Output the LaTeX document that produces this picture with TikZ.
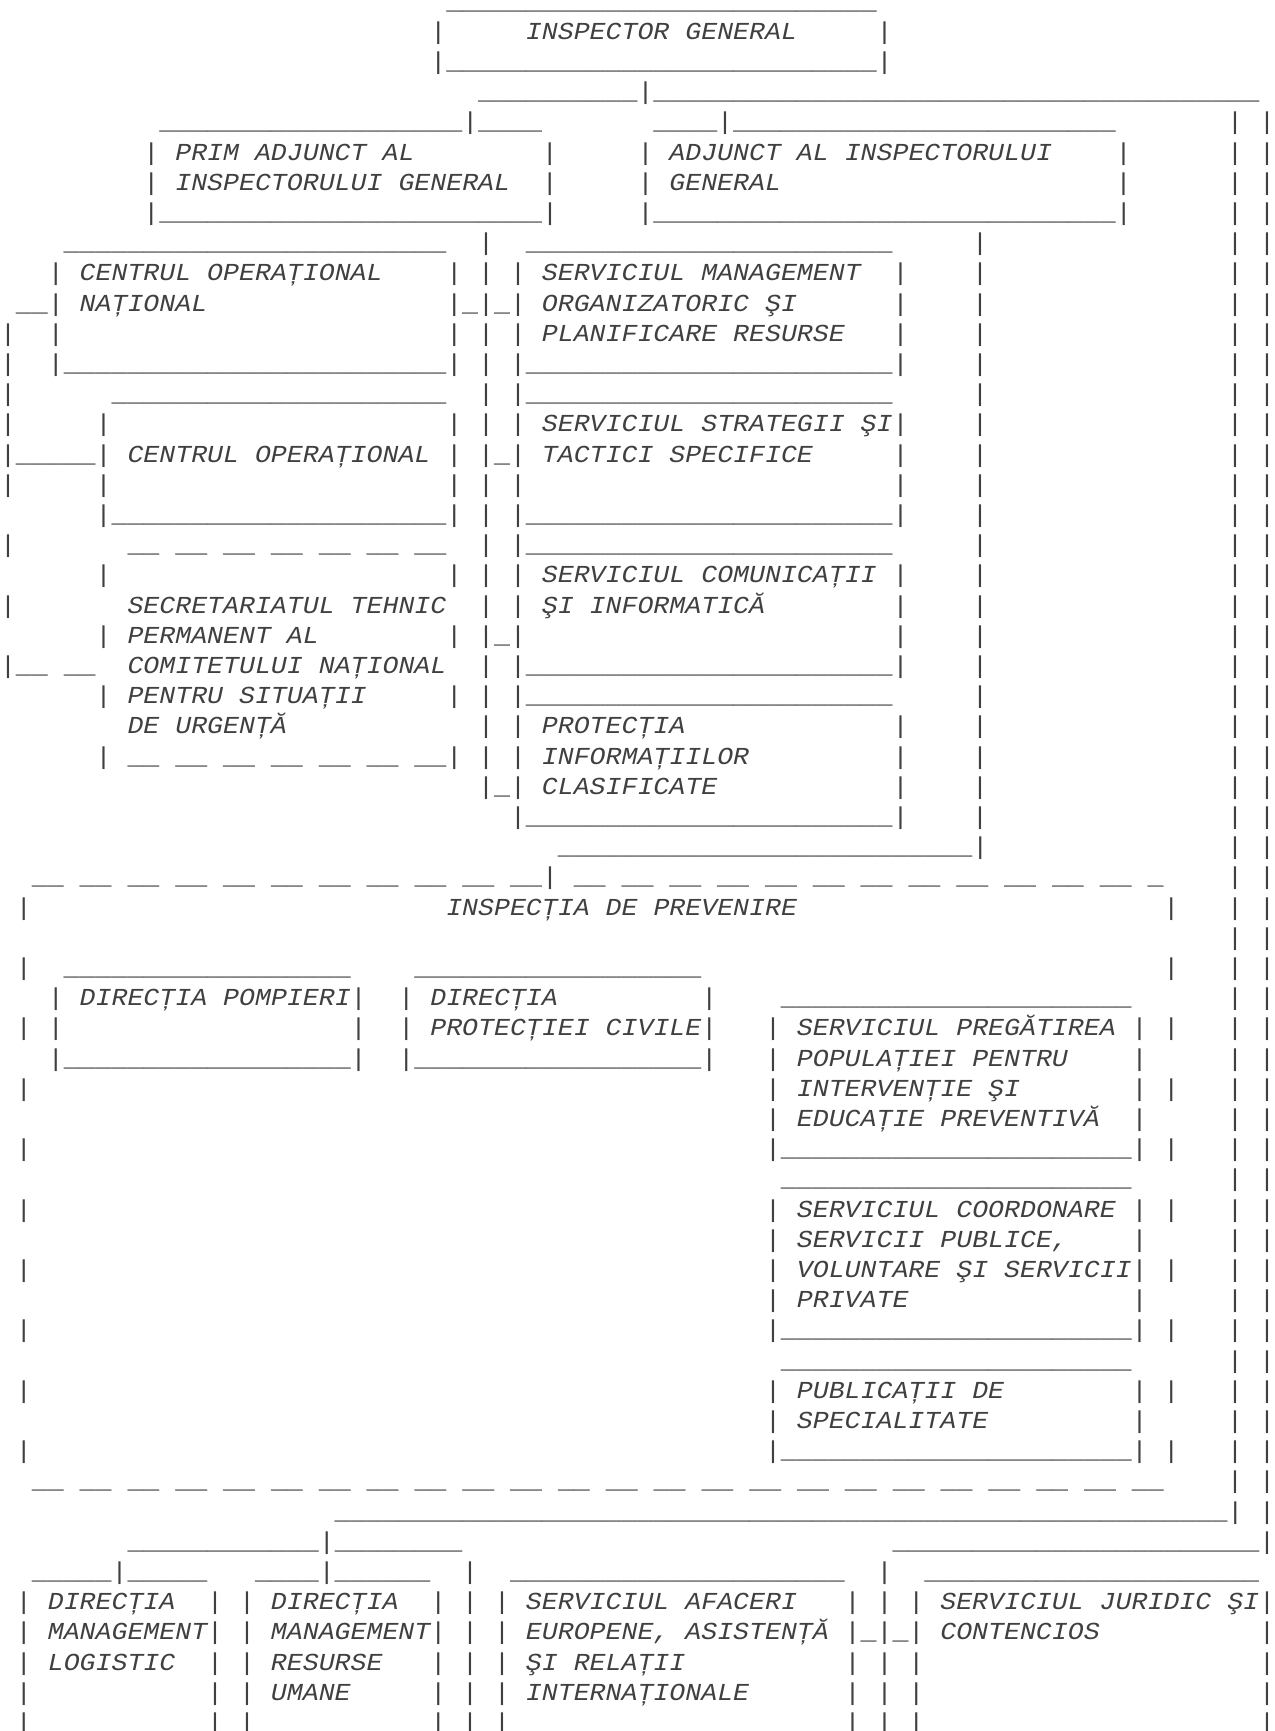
\documentclass[tikz,border=0pt]{standalone}
\usepackage{fontspec}
\newfontfamily\ascf[FakeStretch=1.089]{Liberation Mono}
\ExplSyntaxOn
\cs_new:Npn \RepU #1 { \prg_replicate:nn {#1} { \textunderscore } }
\cs_new:Npn \RepD #1 { \prg_replicate:nn {#1} { \textunderscore \textunderscore \c_space_tl } }
\ExplSyntaxOff
\newcounter{sgc}
\tikzset{
  barseg/.style={anchor=base west, inner sep=0pt, outer sep=0pt, text=black!75,
    font=\ascf\fontsize{12.2pt}{15.1pt}\selectfont},
  txtseg/.style={barseg, font=\ascf\itshape\fontsize{12.2pt}{15.1pt}\selectfont}
}
\newcommand\asg[3]{\stepcounter{sgc}\node[barseg] (s\arabic{sgc}) at ({#2*7.96875pt},{-4.5pt-#1*15.1pt}) {#3};}
\newcommand\atx[3]{\stepcounter{sgc}\node[txtseg] (s\arabic{sgc}) at ({#2*7.96875pt},{-4.5pt-#1*15.1pt}) {#3};}
\begin{document}
\begin{tikzpicture}
\path[use as bounding box] (0pt,0pt) rectangle (637.5pt,-865.5pt);
% Inspector general
\asg{0}{28}{\smash{\RepU{27}}}
\asg{1}{27}{|} \atx{1}{33}{INSPECTOR GENERAL} \asg{1}{55}{|}
\asg{2}{27}{|\RepU{27}|}
\asg{3}{30}{\RepU{10}|\RepU{38}}
\asg{4}{10}{\RepU{19}|\RepU{4}} \asg{4}{41}{\RepU{4}|\RepU{24}}
\asg{5}{9}{|} \atx{5}{11}{PRIM ADJUNCT AL} \asg{5}{34}{|} \asg{5}{40}{|} \atx{5}{42}{ADJUNCT AL INSPECTORULUI} \asg{5}{70}{|}
\asg{6}{9}{|} \atx{6}{11}{INSPECTORULUI GENERAL} \asg{6}{34}{|} \asg{6}{40}{|} \atx{6}{42}{GENERAL} \asg{6}{70}{|}
\asg{7}{9}{|\RepU{24}|} \asg{7}{40}{|\RepU{29}|}
\asg{8}{4}{\RepU{24}} \asg{8}{30}{|} \asg{8}{33}{\RepU{23}} \asg{8}{61}{|}
\asg{9}{3}{|} \atx{9}{5}{CENTRUL OPERAȚIONAL} \asg{9}{28}{|} \asg{9}{30}{|} \asg{9}{32}{|} \atx{9}{34}{SERVICIUL MANAGEMENT} \asg{9}{56}{|} \asg{9}{61}{|}
\asg{10}{1}{\RepU{2}|} \atx{10}{5}{NAȚIONAL} \asg{10}{28}{|\_|\_|} \atx{10}{34}{ORGANIZATORIC ŞI} \asg{10}{56}{|} \asg{10}{61}{|}
\asg{11}{0}{|} \asg{11}{3}{|} \asg{11}{28}{|} \asg{11}{30}{|} \asg{11}{32}{|} \atx{11}{34}{PLANIFICARE RESURSE} \asg{11}{56}{|} \asg{11}{61}{|}
\asg{12}{0}{|} \asg{12}{3}{|\RepU{24}|} \asg{12}{30}{|} \asg{12}{32}{|\RepU{23}|} \asg{12}{61}{|}
\asg{13}{0}{|} \asg{13}{7}{\RepU{21}} \asg{13}{30}{|} \asg{13}{32}{|\RepU{23}} \asg{13}{61}{|}
\asg{14}{0}{|} \asg{14}{6}{|} \asg{14}{28}{|} \asg{14}{30}{|} \asg{14}{32}{|} \atx{14}{34}{SERVICIUL STRATEGII ŞI} \asg{14}{56}{|} \asg{14}{61}{|}
\asg{15}{0}{|\RepU{5}|} \atx{15}{8}{CENTRUL OPERAȚIONAL} \asg{15}{28}{|} \asg{15}{30}{|\_|} \atx{15}{34}{TACTICI SPECIFICE} \asg{15}{56}{|} \asg{15}{61}{|}
\asg{16}{0}{|} \asg{16}{6}{|} \asg{16}{28}{|} \asg{16}{30}{|} \asg{16}{32}{|} \asg{16}{56}{|} \asg{16}{61}{|}
\asg{17}{6}{|\RepU{21}|} \asg{17}{30}{|} \asg{17}{32}{|\RepU{23}|} \asg{17}{61}{|}
\asg{18}{0}{|} \asg{18}{8}{\RepD{6}\_\_} \asg{18}{30}{|} \asg{18}{32}{|\RepU{23}} \asg{18}{61}{|}
\asg{19}{6}{|} \asg{19}{28}{|} \asg{19}{30}{|} \asg{19}{32}{|} \atx{19}{34}{SERVICIUL COMUNICAȚII} \asg{19}{56}{|} \asg{19}{61}{|}
\asg{20}{0}{|} \atx{20}{8}{SECRETARIATUL TEHNIC} \asg{20}{30}{|} \asg{20}{32}{|} \atx{20}{34}{ŞI INFORMATICĂ} \asg{20}{56}{|} \asg{20}{61}{|}
\asg{21}{6}{|} \atx{21}{8}{PERMANENT AL} \asg{21}{28}{|} \asg{21}{30}{|\_|} \asg{21}{56}{|} \asg{21}{61}{|}
\asg{22}{0}{|\_\_ \_\_} \atx{22}{8}{COMITETULUI NAȚIONAL} \asg{22}{30}{|} \asg{22}{32}{|\RepU{23}|} \asg{22}{61}{|}
\asg{23}{6}{|} \atx{23}{8}{PENTRU SITUAȚII} \asg{23}{28}{|} \asg{23}{30}{|} \asg{23}{32}{|\RepU{23}} \asg{23}{61}{|}
\atx{24}{8}{DE URGENȚĂ} \asg{24}{30}{|} \asg{24}{32}{|} \atx{24}{34}{PROTECȚIA} \asg{24}{56}{|} \asg{24}{61}{|}
\asg{25}{6}{|} \asg{25}{8}{\RepD{6}\_\_|} \asg{25}{30}{|} \asg{25}{32}{|} \atx{25}{34}{INFORMAȚIILOR} \asg{25}{56}{|} \asg{25}{61}{|}
\asg{26}{30}{|\_|} \atx{26}{34}{CLASIFICATE} \asg{26}{56}{|} \asg{26}{61}{|}
\asg{27}{32}{|\RepU{23}|} \asg{27}{61}{|}
\asg{28}{35}{\RepU{26}|}
% Inspectia de prevenire
\asg{29}{2}{\RepD{10}\_\_|} \asg{29}{36}{\RepD{12}\_}
\asg{30}{1}{|} \atx{30}{28}{INSPECȚIA DE PREVENIRE} \asg{30}{73}{|}
\asg{32}{1}{|} \asg{32}{4}{\RepU{18}} \asg{32}{26}{\RepU{18}} \asg{32}{73}{|}
\asg{33}{3}{|} \atx{33}{5}{DIRECȚIA POMPIERI} \asg{33}{22}{|} \asg{33}{25}{|} \atx{33}{27}{DIRECȚIA} \asg{33}{44}{|} \asg{33}{49}{\RepU{22}}
\asg{34}{1}{|} \asg{34}{3}{|} \asg{34}{22}{|} \asg{34}{25}{|} \atx{34}{27}{PROTECȚIEI CIVILE} \asg{34}{44}{|} \asg{34}{48}{|} \atx{34}{50}{SERVICIUL PREGĂTIREA} \asg{34}{71}{|} \asg{34}{73}{|}
\asg{35}{3}{|\RepU{18}|} \asg{35}{25}{|\RepU{18}|} \asg{35}{48}{|} \atx{35}{50}{POPULAȚIEI PENTRU} \asg{35}{71}{|}
\asg{36}{1}{|} \asg{36}{48}{|} \atx{36}{50}{INTERVENȚIE ŞI} \asg{36}{71}{|} \asg{36}{73}{|}
\asg{37}{48}{|} \atx{37}{50}{EDUCAȚIE PREVENTIVĂ} \asg{37}{71}{|}
\asg{38}{1}{|} \asg{38}{48}{|\RepU{22}|} \asg{38}{73}{|}
\asg{39}{49}{\RepU{22}}
\asg{40}{1}{|} \asg{40}{48}{|} \atx{40}{50}{SERVICIUL COORDONARE} \asg{40}{71}{|} \asg{40}{73}{|}
\asg{41}{48}{|} \atx{41}{50}{SERVICII PUBLICE,} \asg{41}{71}{|}
\asg{42}{1}{|} \asg{42}{48}{|} \atx{42}{50}{VOLUNTARE ŞI SERVICII} \asg{42}{71}{|} \asg{42}{73}{|}
\asg{43}{48}{|} \atx{43}{50}{PRIVATE} \asg{43}{71}{|}
\asg{44}{1}{|} \asg{44}{48}{|\RepU{22}|} \asg{44}{73}{|}
\asg{45}{49}{\RepU{22}}
\asg{46}{1}{|} \asg{46}{48}{|} \atx{46}{50}{PUBLICAȚII DE} \asg{46}{71}{|} \asg{46}{73}{|}
\asg{47}{48}{|} \atx{47}{50}{SPECIALITATE} \asg{47}{71}{|}
\asg{48}{1}{|} \asg{48}{48}{|\RepU{22}|} \asg{48}{73}{|}
\asg{49}{2}{\RepD{23}\_\_}
% right-hand double line
\foreach \r in {4,...,49}{\asg{\r}{77}{| |}}
% bottom part
\asg{50}{21}{\RepU{56}|} \asg{50}{79}{|}
\asg{51}{8}{\RepU{12}|\RepU{8}} \asg{51}{56}{\RepU{23}|}
\asg{52}{2}{\RepU{5}|\RepU{5}} \asg{52}{16}{\RepU{4}|\RepU{6}} \asg{52}{29}{|} \asg{52}{32}{\RepU{21}} \asg{52}{55}{|} \asg{52}{58}{\RepU{21}}
\asg{53}{1}{|} \atx{53}{3}{DIRECȚIA} \asg{53}{13}{|} \asg{53}{15}{|} \atx{53}{17}{DIRECȚIA} \asg{53}{27}{|} \asg{53}{29}{|} \asg{53}{31}{|} \atx{53}{33}{SERVICIUL AFACERI} \asg{53}{53}{|} \asg{53}{55}{|} \asg{53}{57}{|} \atx{53}{59}{SERVICIUL JURIDIC ŞI} \asg{53}{79}{|}
\asg{54}{1}{|} \atx{54}{3}{MANAGEMENT} \asg{54}{13}{|} \asg{54}{15}{|} \atx{54}{17}{MANAGEMENT} \asg{54}{27}{|} \asg{54}{29}{|} \asg{54}{31}{|} \atx{54}{33}{EUROPENE, ASISTENȚĂ} \asg{54}{53}{|\_|\_|} \atx{54}{59}{CONTENCIOS} \asg{54}{79}{|}
\asg{55}{1}{|} \atx{55}{3}{LOGISTIC} \asg{55}{13}{|} \asg{55}{15}{|} \atx{55}{17}{RESURSE} \asg{55}{27}{|} \asg{55}{29}{|} \asg{55}{31}{|} \atx{55}{33}{ŞI RELAȚII} \asg{55}{53}{|} \asg{55}{55}{|} \asg{55}{57}{|} \asg{55}{79}{|}
\asg{56}{1}{|} \asg{56}{13}{|} \asg{56}{15}{|} \atx{56}{17}{UMANE} \asg{56}{27}{|} \asg{56}{29}{|} \asg{56}{31}{|} \atx{56}{33}{INTERNAȚIONALE} \asg{56}{53}{|} \asg{56}{55}{|} \asg{56}{57}{|} \asg{56}{79}{|}
\foreach \c in {1,13,15,27,29,31,53,55,57,79}{\asg{57}{\c}{\smash{|}}}
\end{tikzpicture}
\end{document}
